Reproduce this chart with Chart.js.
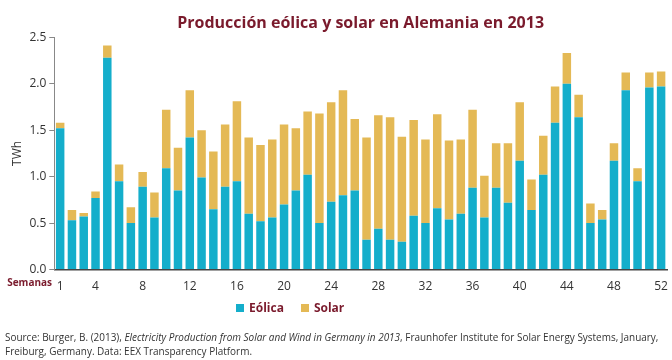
<!DOCTYPE html>
<html>
<head>
<meta charset="utf-8">
<script src="https://cdn.jsdelivr.net/npm/chart.js@4/dist/chart.umd.min.js"></script>
<style>
  body { margin: 0; background: #fff; }
  #wrap { position: relative; width: 672px; height: 360px; }
  #legend {
    position: absolute; left: 236px; top: 299px;
    font-family: "Open Sans", sans-serif; font-size: 12px; font-weight: bold; color: #7a1a2c;
  }
  #legend span.box { display: inline-block; width: 8px; height: 8px; margin-right: 5px; }
  #legend span.item { margin-right: 17px; }
  #source {
    position: absolute; left: 5px; top: 330px; width: 730px;
    font-family: "Open Sans", sans-serif; font-size: 11px;
    line-height: 14px; color: #333;
    transform: scaleX(0.905); transform-origin: left top;
  }
</style>
</head>
<body>
<div id="wrap">
  <canvas id="myChart" width="672" height="360"></canvas>
  <div id="legend"><span class="item"><span class="box" style="background:#14aecb"></span>Eólica</span><span class="item"><span class="box" style="background:#e4b955"></span>Solar</span></div>
  <div id="source">Source: Burger, B. (2013), <i>Electricity Production from Solar and Wind in Germany in 2013</i>, Fraunhofer Institute for Solar Energy Systems, January,<br>Freiburg, Germany. Data: EEX Transparency Platform.</div>
</div>
<script>
// week numbers 1..52
var weeks = []
for (let i = 1; i <= 52; i++) weeks.push(String(i))

// (TWh)
var eolica = [
    1.52, 0.53, 0.57, 0.77, 2.28, 0.95, 0.50, 0.89, 0.56, 1.09,
    0.85, 1.42, 0.99, 0.65, 0.89, 0.95, 0.60, 0.52, 0.56, 0.70,
    0.85, 1.02, 0.50, 0.73, 0.80, 0.85, 0.32, 0.44, 0.32, 0.30,
    0.58, 0.50, 0.66, 0.54, 0.60, 0.88, 0.56, 0.88, 0.72, 1.17,
    0.64, 1.02, 1.58, 2.00, 1.64, 0.50, 0.54, 1.17, 1.93, 0.95,
    1.96, 1.97
]
var total = [
    1.58, 0.64, 0.61, 0.84, 2.41, 1.13, 0.67, 1.05, 0.83, 1.72,
    1.31, 1.93, 1.50, 1.27, 1.56, 1.81, 1.42, 1.34, 1.40, 1.56,
    1.52, 1.70, 1.68, 1.80, 1.93, 1.62, 1.42, 1.66, 1.64, 1.43,
    1.61, 1.40, 1.67, 1.39, 1.40, 1.72, 1.01, 1.36, 1.36, 1.80,
    0.97, 1.44, 1.97, 2.33, 1.88, 0.71, 0.64, 1.36, 2.12, 1.09,
    2.12, 2.13
]
var solar = total.map((t, i) => +(t - eolica[i]).toFixed(2))

var shownTicks = ["1", "4", "8", "12", "16", "20", "24", "28", "32", "36", "40", "44", "48", "52"]

var darkRed = "#7a1a2c"

// "Semanas" label left of the x tick row
const semanasLabel = {
    id: 'semanas',
    afterDraw(chart) {
        const ctx = chart.ctx
        ctx.save()
        ctx.font = "bold 10px 'Open Sans'"
        ctx.fillStyle = darkRed
        ctx.textAlign = 'right'
        ctx.textBaseline = 'middle'
        ctx.fillText('Semanas', 52, chart.scales.x.top + 14)
        ctx.restore()
    }
}

var chart = new Chart(document.getElementById("myChart"), {
    type: 'bar',
    data: {
        labels: weeks,
        datasets: [
            { label: "Eólica", data: eolica, backgroundColor: "#14aecb", barPercentage: 0.72, categoryPercentage: 1 },
            { label: "Solar", data: solar, backgroundColor: "#e4b955", barPercentage: 0.72, categoryPercentage: 1 }
        ]
    },
    options: {
        responsive: false,
        animation: false,
        layout: { padding: { left: 8, right: 5, top: 0, bottom: 64 } },
        plugins: {
            title: {
                display: true,
                fullSize: false,
                text: 'Producción eólica y solar en Alemania en 2013',
                color: darkRed,
                font: { family: "'Open Sans'", size: 16, weight: 'bold' },
                padding: { top: 14, bottom: 4 }
            },
            legend: { display: false },
            tooltip: { enabled: false }
        },
        scales: {
            x: {
                stacked: true,
                grid: { display: false },
                border: { color: "#444", width: 1.5 },
                ticks: {
                    autoSkip: false, maxRotation: 0, padding: 2,
                    color: "#333", font: { family: "'Open Sans'", size: 12 },
                    callback: function (v) {
                        const l = this.getLabelForValue(v)
                        return shownTicks.includes(l) ? l : ''
                    }
                }
            },
            y: {
                stacked: true,
                min: 0, max: 2.5,
                grid: { display: true, drawOnChartArea: false, tickLength: 5, color: "#888" },
                border: { color: "#888" },
                ticks: {
                    stepSize: 0.5, color: "#333", padding: 3,
                    font: { family: "'Open Sans'", size: 12 },
                    callback: v => v.toFixed(1)
                },
                title: { display: true, text: 'TWh', color: "#333", font: { family: "'Open Sans'", size: 12 }, padding: 2 }
            }
        }
    },
    plugins: [semanasLabel]
});
</script>
</body>
</html>
